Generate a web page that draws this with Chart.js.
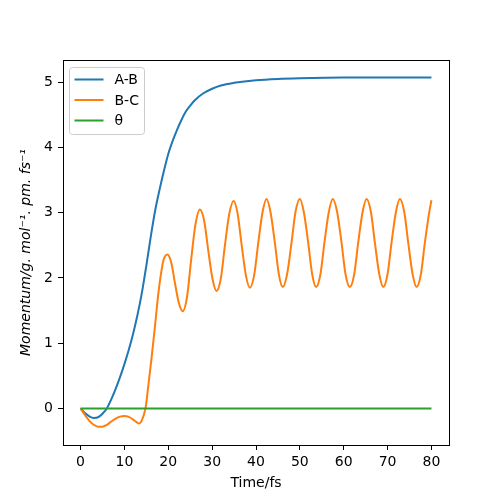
<!DOCTYPE html>
<html>
<head>
<meta charset="utf-8">
<script src="https://cdn.jsdelivr.net/npm/chart.js@4"></script>
<style>
  html, body { margin: 0; padding: 0; background: #fff; }
  #wrap { width: 500px; height: 500px; }
</style>
</head>
<body>
<div id="wrap"><canvas id="myCanvas" width="500" height="500"></canvas></div>
<script>
// values
const seriesNames = ["A-B", "B-C", "θ"];
const seriesColors = ["#1f77b4", "#ff7f0e", "#2ca02c"];

const abTime = [0, 1, 2, 3, 4, 5, 6, 7, 8, 9, 10, 11, 12, 13, 14, 15, 16, 17, 18, 19, 20,
  21, 22, 23, 24, 25, 26, 28, 30, 32, 35, 40, 45, 50, 60, 70, 80];
const abMomentum = [0, -0.07, -0.12, -0.145, -0.135, -0.08, 0.0, 0.14, 0.30, 0.48, 0.68,
  0.90, 1.15, 1.44, 1.78, 2.19, 2.63, 3.03, 3.35, 3.64, 3.90,
  4.10, 4.27, 4.42, 4.55, 4.64, 4.72, 4.83, 4.90, 4.95, 4.99, 5.03, 5.05, 5.06, 5.07, 5.07, 5.07];

const bcTime = [0, 1, 2, 3, 4, 5, 6, 7, 8, 9, 10, 11, 12, 12.7, 13.3, 13.7, 14.1, 14.5, 14.9,
  15.4, 16.2, 17, 17.6, 18.2, 18.9, 19.8,
  20.7, 21.5, 22.4, 23.3, 24.3, 25.2, 26.2, 27.2, 28.2, 29.1, 30.1, 31.0,
  32.0, 32.9, 33.9, 34.9, 35.8, 36.7, 37.7, 38.6, 39.6, 40.5, 41.5, 42.4,
  43.3, 44.3, 45.2, 46.1, 47.1, 48.1, 49.0, 50.0, 50.9, 51.9, 52.8, 53.7,
  54.7, 55.6, 56.6, 57.5, 58.5, 59.5, 60.4, 61.4, 62.4, 63.3, 64.3, 65.2,
  66.2, 67.1, 68.1, 69.0, 70.0, 70.9, 71.9, 72.8, 73.8, 74.7, 75.7, 76.6,
  77.6, 78.5, 79.5, 80.0];
const bcMomentum = [0, -0.1, -0.19, -0.25, -0.28, -0.28, -0.25, -0.2, -0.155, -0.125, -0.115,
  -0.13, -0.17, -0.205, -0.23, -0.215, -0.16, -0.08, 0.04,
  0.32, 0.78, 1.28, 1.68, 2.0, 2.27, 2.36,
  2.23, 1.93, 1.62, 1.49, 1.72, 2.27, 2.82, 3.05, 2.87, 2.43, 1.98, 1.80,
  2.00, 2.49, 2.98, 3.18, 2.99, 2.52, 2.04, 1.85, 2.05, 2.53, 3.01, 3.21,
  3.01, 2.54, 2.06, 1.86, 2.06, 2.54, 3.01, 3.21, 3.01, 2.54, 2.06, 1.86,
  2.06, 2.54, 3.01, 3.21, 3.01, 2.54, 2.06, 1.86, 2.06, 2.54, 3.01, 3.21,
  3.01, 2.54, 2.06, 1.86, 2.06, 2.54, 3.01, 3.21, 3.01, 2.54, 2.06, 1.86,
  2.06, 2.54, 3.01, 3.19];

const thetaTime = [0, 80];
const thetaMomentum = [0, 0];

const xTicks = [0, 10, 20, 30, 40, 50, 60, 70, 80];
const yTicks = [0, 1, 2, 3, 4, 5];

const xTitle = "Time/fs";
const yTitle = "Momentum/g. mol⁻¹. pm. fs⁻¹";

function toPoints(times, values) {
  return times.map((t, i) => ({ x: t, y: values[i] }));
}

Chart.defaults.font.family = "'DejaVu Sans', sans-serif";
Chart.defaults.font.size = 14;
Chart.defaults.color = "#000";

// box around the axes, like matplotlib spines
const frame = {
  id: "frame",
  afterDraw(chart) {
    const { ctx, chartArea } = chart;
    ctx.save();
    ctx.strokeStyle = "#000";
    ctx.lineWidth = 1;
    ctx.strokeRect(Math.round(chartArea.left) + 0.5, Math.round(chartArea.top) + 0.5,
      Math.round(chartArea.right - chartArea.left), Math.round(chartArea.bottom - chartArea.top));
    ctx.restore();
  },
};

// legend in the upper left corner of the axes
const innerLegend = {
  id: "innerLegend",
  afterDraw(chart) {
    const { ctx, chartArea } = chart;
    const x = chartArea.left + 6.5;
    const y = chartArea.top + 7.5;
    ctx.save();
    ctx.fillStyle = "rgba(255,255,255,0.8)";
    ctx.strokeStyle = "#cccccc";
    ctx.lineWidth = 1;
    ctx.beginPath();
    if (ctx.roundRect) ctx.roundRect(x, y, 75, 67, 3);
    else ctx.rect(x, y, 75, 67);
    ctx.fill();
    ctx.stroke();
    chart.data.datasets.forEach((ds, i) => {
      const rowY = y + 12 + i * 20.5;
      ctx.strokeStyle = ds.borderColor;
      ctx.lineWidth = 2;
      ctx.beginPath();
      ctx.moveTo(x + 5, rowY);
      ctx.lineTo(x + 34, rowY);
      ctx.stroke();
      ctx.fillStyle = "#000";
      ctx.font = "14px 'DejaVu Sans'";
      ctx.textBaseline = "middle";
      ctx.textAlign = "left";
      ctx.fillText(ds.label, x + 45, rowY + 1);
    });
    ctx.restore();
  },
};

const data = {
  datasets: [
    {
      label: seriesNames[0],
      data: toPoints(abTime, abMomentum),
      borderColor: seriesColors[0],
      order: 2,
    },
    {
      label: seriesNames[1],
      data: toPoints(bcTime, bcMomentum),
      borderColor: seriesColors[1],
      order: 1,
    },
    {
      label: seriesNames[2],
      data: toPoints(thetaTime, thetaMomentum),
      borderColor: seriesColors[2],
      order: 0,
    },
  ],
};

const config = {
  type: "line",
  data: data,
  options: {
    responsive: false,
    animation: false,
    devicePixelRatio: 1,
    layout: { padding: { top: 60, right: 51, left: 0, bottom: 0 } },
    elements: {
      point: { radius: 0 },
      line: { borderWidth: 2, cubicInterpolationMode: "monotone", fill: false },
    },
    plugins: { legend: { display: false }, tooltip: { enabled: false } },
    scales: {
      x: {
        type: "linear",
        min: -4,
        max: 84,
        afterBuildTicks: (scale) => { scale.ticks = xTicks.map((v) => ({ value: v })); },
        afterFit: (scale) => { scale.height = 55; },
        ticks: { padding: 4, autoSkip: false, maxRotation: 0 },
        grid: { drawOnChartArea: false, tickLength: 5, color: "#000", lineWidth: 1 },
        border: { display: false },
        title: { display: true, text: xTitle, padding: { top: 0, bottom: 8.6 } },
      },
      y: {
        type: "linear",
        min: -0.56,
        max: 5.34,
        afterBuildTicks: (scale) => { scale.ticks = yTicks.map((v) => ({ value: v })); },
        afterFit: (scale) => { scale.width = 63; },
        ticks: { padding: 5, autoSkip: false },
        grid: { drawOnChartArea: false, tickLength: 5, color: "#000", lineWidth: 1 },
        border: { display: false },
        title: {
          display: true,
          text: yTitle,
          font: { style: "italic" },
          padding: { top: 17.6, bottom: 0 },
        },
      },
    },
  },
  plugins: [frame, innerLegend],
};

const myChart = new Chart(document.querySelector("#myCanvas"), config);
</script>
</body>
</html>
